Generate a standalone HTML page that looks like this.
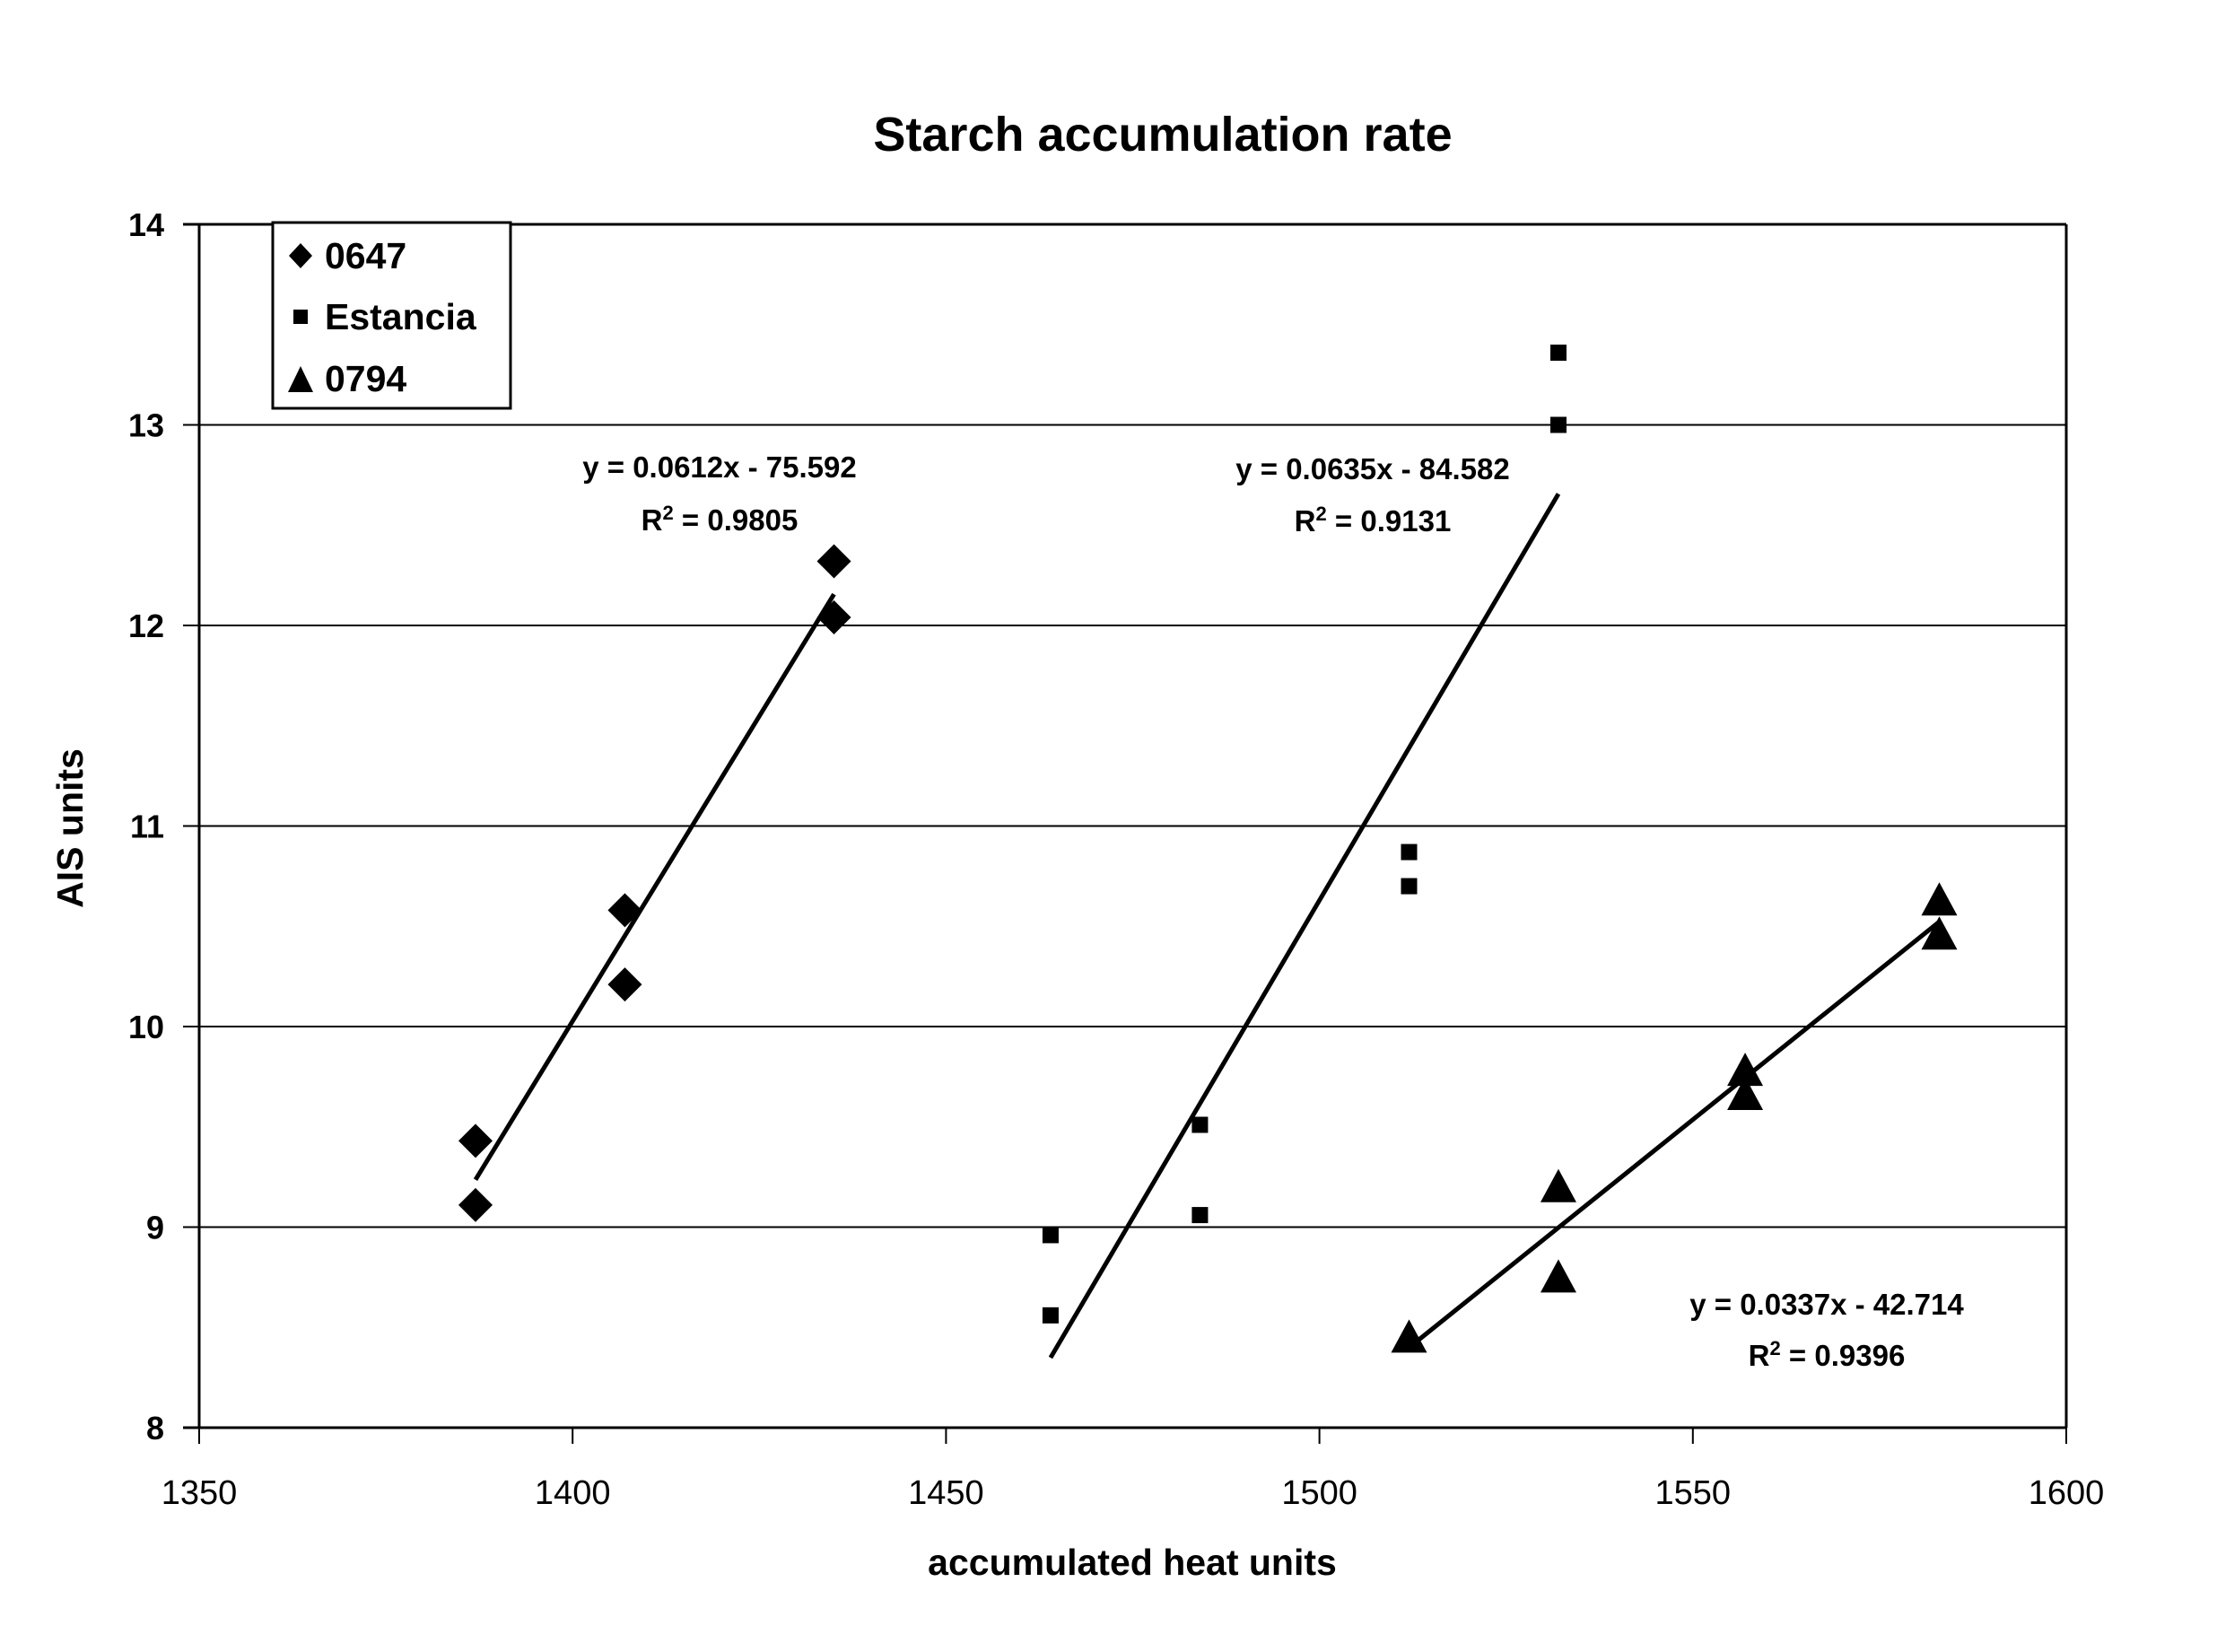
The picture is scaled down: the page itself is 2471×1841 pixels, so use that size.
<!DOCTYPE html>
<html><head><meta charset="utf-8"><style>
html,body{margin:0;padding:0;background:#fff}
svg{display:block;font-family:"Liberation Sans",Arial,sans-serif}
</style></head><body>
<svg id="chart" width="2471" height="1841" viewBox="0 0 2471 1841">
<text x="1296" y="168" font-size="54" font-weight="bold" text-anchor="middle">Starch accumulation rate</text>
<g id="grid"></g><g id="axes"></g><g id="lines"></g><g id="marks"></g>
<text x="1262" y="1755" font-size="41" font-weight="bold" text-anchor="middle">accumulated heat units</text>
<text transform="translate(92,923) rotate(-90)" font-size="41" font-weight="bold" text-anchor="middle">AIS units</text>
<g>
<rect x="304" y="248" width="265" height="207" fill="#fff" stroke="#000" stroke-width="3"/>
<path d="M322,285 L335,271 L348,285 L335,299 Z" fill="#000"/>
<text x="362" y="299" font-size="41" font-weight="bold">0647</text>
<rect x="327" y="345" width="16" height="16" fill="#000"/>
<text x="362" y="367" font-size="41" font-weight="bold">Estancia</text>
<path d="M321,437 L335,408 L349,437 Z" fill="#000"/>
<text x="362" y="436" font-size="41" font-weight="bold">0794</text>
</g>
<g font-size="33" font-weight="bold" text-anchor="middle">
<text x="802" y="532">y = 0.0612x - 75.592</text>
<text x="802" y="591">R<tspan dy="-12" font-size="22">2</tspan><tspan dy="12"> = 0.9805</tspan></text>
<text x="1530" y="534">y = 0.0635x - 84.582</text>
<text x="1530" y="592">R<tspan dy="-12" font-size="22">2</tspan><tspan dy="12"> = 0.9131</tspan></text>
<text x="2036" y="1465">y = 0.0337x - 42.714</text>
<text x="2036" y="1522">R<tspan dy="-12" font-size="22">2</tspan><tspan dy="12"> = 0.9396</tspan></text>
</g>
</svg>
<script>
const xTicks=[1350,1400,1450,1500,1550,1600];
const yTicks=[8,9,10,11,12,13,14];
const x0647=[1387,1387,1407,1407,1435,1435];
const y0647=[9.43,9.11,10.58,10.21,12.32,12.04];
const xEst=[1464,1464,1484,1484,1512,1512,1532,1532];
const yEst=[8.96,8.56,9.51,9.06,10.87,10.70,13.36,13.0];
const x0794=[1512,1532,1532,1557,1557,1583,1583];
const y0794=[8.45,9.2,8.75,9.78,9.66,10.63,10.46];
const NS='http://www.w3.org/2000/svg';
const L=222,R=2303,T=250,B=1591;
function sx(v){return L+(v-1350)/(1600-1350)*(R-L);}
function sy(v){return B-(v-8)/(14-8)*(B-T);}
function mk(tag,attrs,parent){const e=document.createElementNS(NS,tag);for(const k in attrs)e.setAttribute(k,attrs[k]);document.getElementById(parent).appendChild(e);return e;}
yTicks.forEach(t=>{
 const g=mk('line',{x1:L-18,x2:R,y1:sy(t),y2:sy(t),stroke:'#000','stroke-width':(t===8||t===14)?3:2},'grid');
 
 
 const tx=mk('text',{x:183,y:sy(t)+13,'font-size':36,'font-weight':'bold','text-anchor':'end'},'axes');
 tx.textContent=t;
 
 
});
xTicks.forEach(t=>{
 const k=mk('line',{x1:sx(t),x2:sx(t),y1:B,y2:B+18,stroke:'#000','stroke-width':2},'axes');
 
 
 const tx=mk('text',{x:sx(t),y:1676,'font-size':38,'text-anchor':'middle'},'axes');
 tx.textContent=t;
 
 
});
const lv=mk('line',{x1:L,x2:L,y1:T,y2:B,stroke:'#000','stroke-width':3},'axes');


const rv=mk('line',{x1:R,x2:R,y1:T,y2:B,stroke:'#000','stroke-width':3},'axes');


function fit(xs,ys,name){
 const n=xs.length;let mx=0,my=0;xs.forEach((v,i)=>{mx+=v;my+=ys[i];});mx/=n;my/=n;
 let sxy=0,sxx=0;xs.forEach((v,i)=>{sxy+=(v-mx)*(ys[i]-my);sxx+=(v-mx)*(v-mx);});
 const b=sxy/sxx,a=my-b*mx;const lo=Math.min(...xs),hi=Math.max(...xs);
 const l=mk('line',{x1:sx(lo),y1:sy(a+b*lo),x2:sx(hi),y2:sy(a+b*hi),stroke:'#000','stroke-width':5},'lines');
 
 
}
fit(x0647,y0647,'0647');fit(xEst,yEst,'estancia');fit(x0794,y0794,'0794');
x0647.forEach((v,i)=>{const X=sx(v),Y=sy(y0647[i]);
 const p=mk('path',{d:`M${X-19},${Y} L${X},${Y-19} L${X+19},${Y} L${X},${Y+19} Z`,fill:'#000'},'marks');
 
 });
xEst.forEach((v,i)=>{const X=sx(v),Y=sy(yEst[i]);
 const p=mk('rect',{x:X-9,y:Y-9,width:18,height:18,fill:'#000'},'marks');
 
 });
x0794.forEach((v,i)=>{const X=sx(v),Y=sy(y0794[i]);
 const p=mk('path',{d:`M${X-20},${Y+17} L${X},${Y-20} L${X+20},${Y+17} Z`,fill:'#000'},'marks');
 
 });
</script>
</body></html>
